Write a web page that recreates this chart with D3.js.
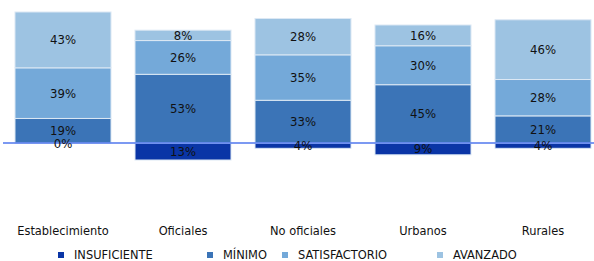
<!DOCTYPE html>
<html>
<head>
<meta charset="utf-8">
<script src="https://cdn.jsdelivr.net/npm/d3@7"></script>
<style>
body { margin:0; background:#fff; }
svg text { font-family:"DejaVu Sans Condensed","DejaVu Sans",sans-serif; }
</style>
</head>
<body>
<div id="chart"></div>
<script>
var width = 594, height = 261

var categories = ['Establecimiento','Oficiales','No oficiales','Urbanos','Rurales']
var levels     = ['INSUFICIENTE','MÍNIMO','SATISFACTORIO','AVANZADO']
var colors     = ['#0a35a6','#3b74b7','#74a9d9','#9dc3e2']

var insuficiente  = [0,13,4,9,4]
var minimo        = [19,53,33,45,21]
var satisfactorio = [39,26,35,30,28]
var avanzado      = [43,8,28,16,46]

var series = [insuficiente,minimo,satisfactorio,avanzado]

var svg = d3.select('#chart').append('svg')
	.attr('width',width).attr('height',height)

var x = d3.scaleBand().domain(categories).range([3,603])
	.paddingInner(0.2).paddingOuter(0.1)
var y = d3.scaleLinear().domain([-13,101]).range([160,12])

// build segments: insuficiente goes below zero, the rest stack upward
var segs = []
categories.forEach(function(c,i){
	segs.push({cat:c,level:0,v:insuficiente[i],y0:-insuficiente[i],y1:0})
	var base = 0
	for (var k=1;k<series.length;k++){
		var v = series[k][i]
		segs.push({cat:c,level:k,v:v,y0:base,y1:base+v})
		base += v
	}
})

var bars = svg.append('g').attr('id','bars')
bars.selectAll('rect').data(segs).enter().append('rect')
	.attr('x',function(d){return x(d.cat)})
	.attr('width',x.bandwidth())
	.attr('y',function(d){return y(d.y1)})
	.attr('height',function(d){return y(d.y0)-y(d.y1)})
	.style('fill',function(d){return colors[d.level]})
	.style('stroke','#dce8f4').style('stroke-width',1)

// zero line
svg.append('line')
	.attr('x1',3).attr('x2',width)
	.attr('y1',y(0)).attr('y2',y(0))
	.style('stroke','#5b7fef').style('stroke-opacity',0.8).style('stroke-width',2)

var labels = svg.append('g').attr('id','labels')
labels.selectAll('text').data(segs).enter().append('text')
	.attr('x',function(d){return x(d.cat)+x.bandwidth()/2})
	.attr('y',function(d){return (y(d.y0)+y(d.y1))/2 + 1})
	.attr('text-anchor','middle').attr('dominant-baseline','middle')
	.style('font-size','13px').style('fill','#111')
	.text(function(d){return d.v+'%'})

var xAxis = svg.append('g').attr('transform','translate(0,235)')
	.call(d3.axisBottom(x).tickSize(0).tickPadding(0))
xAxis.select('.domain').remove()
xAxis.selectAll('text').style('font-size','12.7px').style('fill','#111')
	.attr('dy',0)
	.style('font-family','"DejaVu Sans Condensed","DejaVu Sans",sans-serif')

var legendX = [58,207,282,437]
var legend = svg.append('g').attr('id','legend')
levels.forEach(function(l,i){
	legend.append('rect').attr('x',legendX[i]).attr('y',252)
		.attr('width',6).attr('height',6).style('fill',colors[i])
	legend.append('text').attr('x',legendX[i]+16).attr('y',259)
		.style('font-size','12.7px').style('fill','#111').text(l)
})
</script>
</body>
</html>
